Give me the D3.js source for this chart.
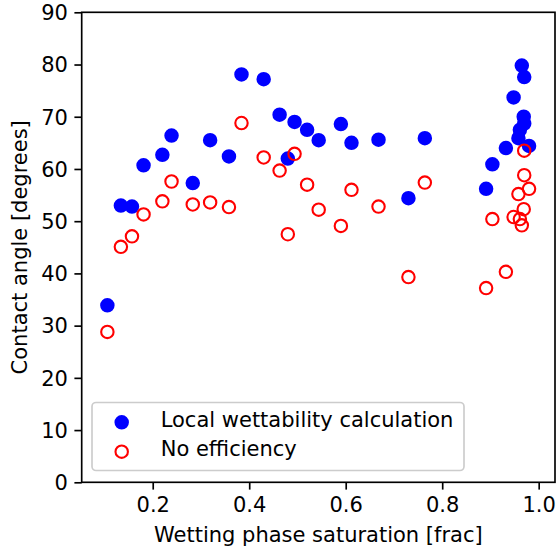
<!DOCTYPE html>
<html>
<head>
<meta charset="utf-8">
<script src="https://cdn.jsdelivr.net/npm/d3@7"></script>
<style>
  html, body { margin: 0; padding: 0; background: #fff; }
  svg { display: block; font-family: "DejaVu Sans", sans-serif; }
</style>
</head>
<body>
<svg id="chart" width="556" height="550"></svg>
<script>
// Wetting phase saturation for each sample
const saturation = [0.106, 0.134, 0.157, 0.181, 0.220, 0.239, 0.283, 0.319, 0.358, 0.384,
                    0.430, 0.463, 0.480, 0.494, 0.520, 0.544, 0.590, 0.612, 0.668, 0.730,
                    0.764, 0.891, 0.904, 0.932, 0.948, 0.958, 0.961, 0.965, 0.969, 0.970,
                    0.970, 0.980];
// Contact angle from the local wettability calculation
const localAngle = [33.9, 53.0, 52.8, 60.7, 62.7, 66.4, 57.3, 65.5, 62.4, 78.1,
                    77.2, 70.4, 62.0, 69.0, 67.5, 65.5, 68.6, 65.0, 65.6, 54.4,
                    65.9, 56.2, 60.9, 64.0, 73.7, 65.9, 67.5, 79.8, 70.0, 68.7,
                    77.6, 64.4];
// Contact angle with no efficiency
const noEffAngle = [28.8, 45.1, 47.1, 51.3, 53.8, 57.6, 53.2, 53.6, 52.7, 68.8,
                    62.2, 59.7, 47.5, 62.9, 57.0, 52.2, 49.1, 56.0, 52.8, 39.3,
                    57.4, 37.2, 50.4, 40.3, 50.8, 55.2, 50.4, 49.2, 52.3, 58.8,
                    63.5, 56.2];
const xTicks = [0.2, 0.4, 0.6, 0.8, 1.0];
const yTicks = [0, 10, 20, 30, 40, 50, 60, 70, 80, 90];
const seriesNames = ["Local wettability calculation", "No efficiency"];

const svg = d3.select("#chart");
const plotLeft = 81.7, plotRight = 555, plotTop = 12.3, plotBottom = 482.3;

const x = d3.scaleLinear().domain([0.0528, 1.0338]).range([plotLeft, plotRight]);
const y = d3.scaleLinear().domain([0, 90]).range([plotBottom, plotTop]);

const fontSize = 21;
const markerR = 6.2, markerEdge = 2.1;

// Points: filled blue for local wettability, open red for no efficiency
const plot = svg.append("g");
plot.selectAll("circle.local")
  .data(saturation.map((s, i) => [s, localAngle[i]]))
  .enter().append("circle")
  .attr("class", "local")
  .attr("cx", d => x(d[0])).attr("cy", d => y(d[1]))
  .attr("r", markerR).attr("fill", "#0000ff")
  .attr("stroke", "#0000ff").attr("stroke-width", markerEdge);

plot.selectAll("circle.noeff")
  .data(saturation.map((s, i) => [s, noEffAngle[i]]))
  .enter().append("circle")
  .attr("class", "noeff")
  .attr("cx", d => x(d[0])).attr("cy", d => y(d[1]))
  .attr("r", markerR).attr("fill", "none")
  .attr("stroke", "#ff0000").attr("stroke-width", markerEdge);

// Axes
const xAxis = d3.axisBottom(x).tickValues(xTicks).tickFormat(d3.format(".1f"))
  .tickSize(7.3).tickPadding(6);
const yAxis = d3.axisLeft(y).tickValues(yTicks).tickFormat(d3.format("d"))
  .tickSize(7.3).tickPadding(6.5);

const gx = svg.append("g").attr("transform", `translate(0,${plotBottom})`).call(xAxis);
const gy = svg.append("g").attr("transform", `translate(${plotLeft},0)`).call(yAxis);
[gx, gy].forEach(g => {
  g.select(".domain").remove();
  g.selectAll(".tick line").attr("stroke", "#000").attr("stroke-width", 1.67);
  g.selectAll(".tick text").attr("fill", "#000")
    .style("font-size", fontSize + "px").style("font-family", "DejaVu Sans");
});
gx.selectAll(".tick text").attr("dy", null).attr("y", 0)
  .attr("transform", "translate(0,30)");
gy.selectAll(".tick text").attr("dy", "0.35em");

// Frame
svg.append("rect")
  .attr("x", plotLeft).attr("y", plotTop)
  .attr("width", plotRight - plotLeft).attr("height", plotBottom - plotTop)
  .attr("fill", "none").attr("stroke", "#000").attr("stroke-width", 1.67);

// Axis titles
svg.append("text")
  .attr("x", (plotLeft + plotRight) / 2).attr("y", 542)
  .attr("text-anchor", "middle").style("font-size", fontSize + "px")
  .text("Wetting phase saturation [frac]");
svg.append("text")
  .attr("transform", `translate(27,${(plotTop + plotBottom) / 2}) rotate(-90)`)
  .attr("text-anchor", "middle").style("font-size", fontSize + "px")
  .text("Contact angle [degrees]");

// Legend
const legend = svg.append("g");
legend.append("rect")
  .attr("x", 92).attr("y", 402.5).attr("width", 372).attr("height", 68)
  .attr("rx", 4).attr("fill", "#fff").attr("fill-opacity", 0.8)
  .attr("stroke", "#cccccc").attr("stroke-width", 1.67);
const entries = [
  { name: seriesNames[0], fill: "#0000ff", stroke: "#0000ff", cy: 422.3 },
  { name: seriesNames[1], fill: "none", stroke: "#ff0000", cy: 451.7 }
];
entries.forEach(e => {
  legend.append("circle").attr("cx", 121.7).attr("cy", e.cy).attr("r", markerR)
    .attr("fill", e.fill).attr("stroke", e.stroke).attr("stroke-width", markerEdge);
  legend.append("text").attr("x", 160.7).attr("y", e.cy + 4.6)
    .style("font-size", fontSize + "px").text(e.name);
});
</script>
</body>
</html>
